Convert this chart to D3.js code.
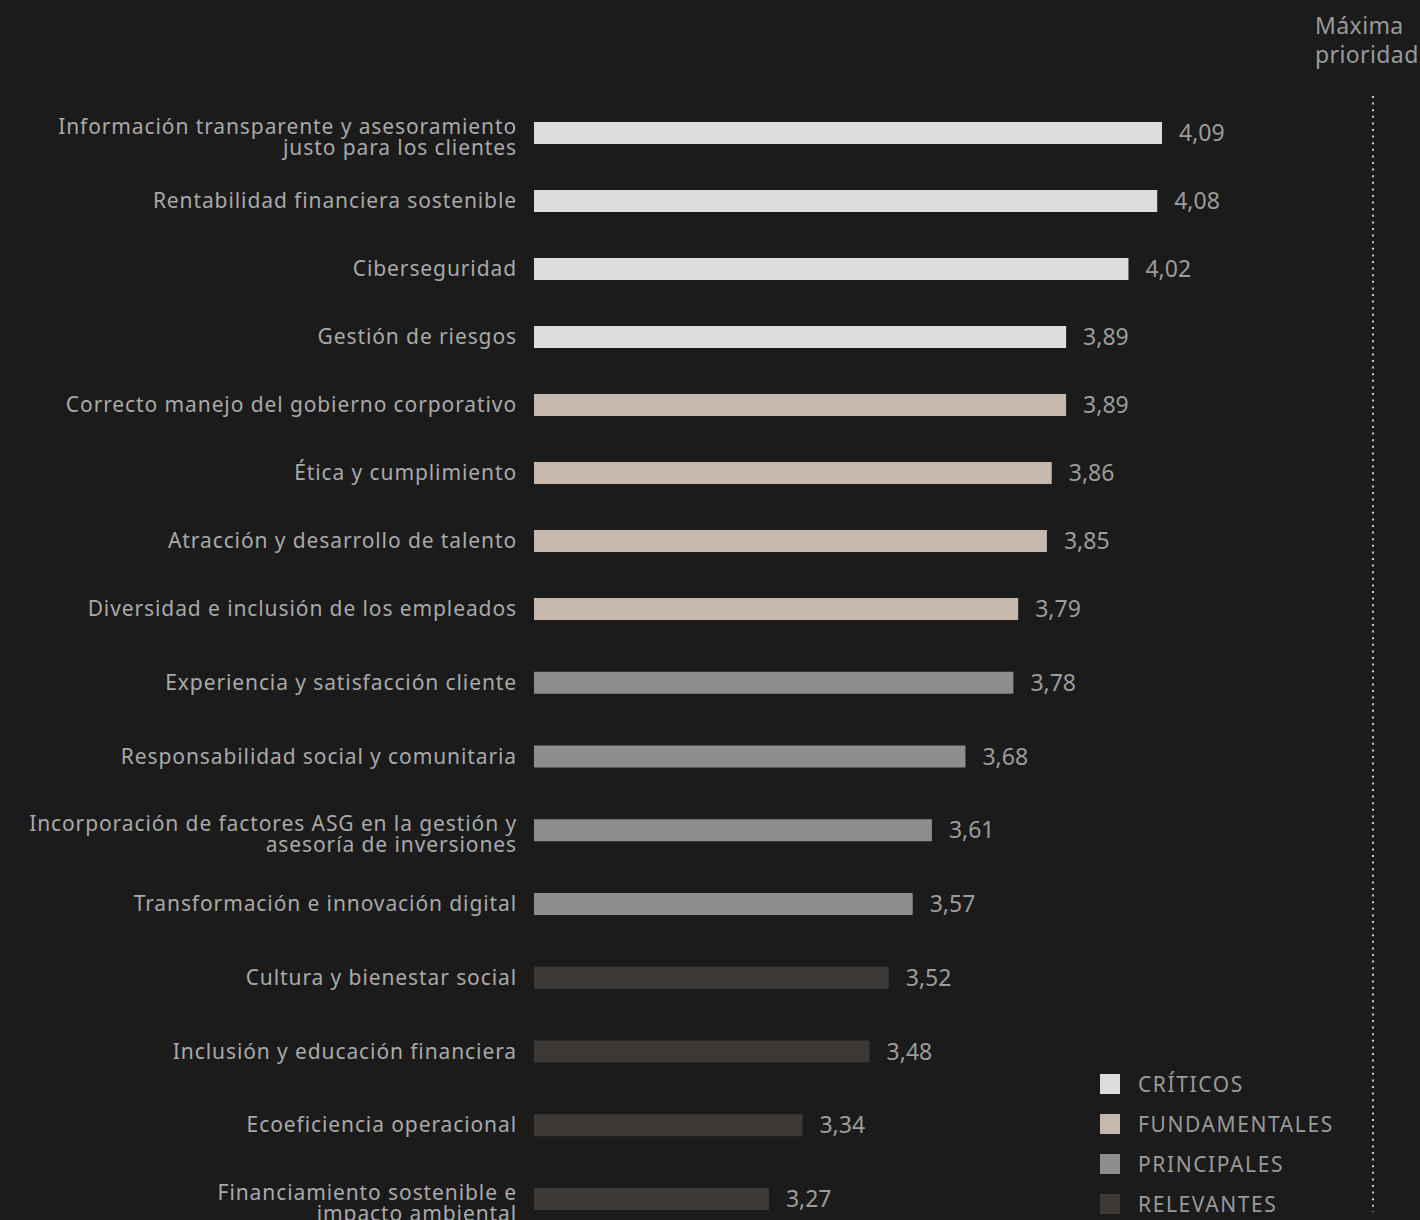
<!DOCTYPE html>
<html>
<head>
<meta charset="utf-8">
<script src="https://cdn.jsdelivr.net/npm/d3@7"></script>
<style>
  body { margin: 0; background: #1b1b1b; }
  svg { display: block; font-family: "Noto Sans", sans-serif; }
</style>
</head>
<body>
<div id="chart"></div>
<script>
// data
var categories = [
  "Información transparente y asesoramiento|justo para los clientes",
  "Rentabilidad financiera sostenible",
  "Ciberseguridad",
  "Gestión de riesgos",
  "Correcto manejo del gobierno corporativo",
  "Ética y cumplimiento",
  "Atracción y desarrollo de talento",
  "Diversidad e inclusión de los empleados",
  "Experiencia y satisfacción cliente",
  "Responsabilidad social y comunitaria",
  "Incorporación de factores ASG en la gestión y|asesoría de inversiones",
  "Transformación e innovación digital",
  "Cultura y bienestar social",
  "Inclusión y educación financiera",
  "Ecoeficiencia operacional",
  "Financiamiento sostenible e|impacto ambiental"
];
var values = [4.09, 4.08, 4.02, 3.89, 3.89, 3.86, 3.85, 3.79, 3.78, 3.68, 3.61, 3.57, 3.52, 3.48, 3.34, 3.27];
var groups = [0, 0, 0, 0, 1, 1, 1, 1, 2, 2, 2, 2, 3, 3, 3, 3];
var groupNames = ["CRÍTICOS", "FUNDAMENTALES", "PRINCIPALES", "RELEVANTES"];
var groupColors = ["#dcdcdc", "#c5b9ae", "#8d8d8d", "#3d3936"];

var fullWidth = 1420;
var fullHeight = 1220;

var svg = d3.select("#chart").append("svg")
    .attr("width", fullWidth)
    .attr("height", fullHeight);

svg.append("rect")
    .attr("width", fullWidth)
    .attr("height", fullHeight)
    .attr("fill", "#1b1b1b");

// bars start at 534, value scale does not start at zero
var xScale = d3.scaleLinear()
    .domain([2.78, 4.09])
    .range([534, 1162]);

// rows are a bit tighter in the top half than in the bottom half
var rowScale = d3.scaleLinear()
    .domain([0, 7, categories.length - 1])
    .range([133, 609, 1199]);

var barHeight = 22;

var rows = svg.append("g").selectAll("g.row")
    .data(categories)
  .enter().append("g")
    .classed("row", true)
    .attr("transform", function(d, i) { return "translate(0," + rowScale(i) + ")"; });

rows.append("rect")
    .attr("x", xScale(2.78))
    .attr("y", -barHeight / 2)
    .attr("height", barHeight)
    .attr("width", function(d, i) { return xScale(values[i]) - xScale(2.78); })
    .attr("fill", function(d, i) { return groupColors[groups[i]]; });

// category labels, some on two lines
rows.append("text")
    .attr("x", 517)
    .attr("text-anchor", "end")
    .style("font-size", "21px")
    .style("letter-spacing", "0.9px")
    .style("fill", "#a9a9a9")
    .each(function(d) {
        var lines = d.split("|");
        var t = d3.select(this);
        var y0 = lines.length > 1 ? 1 : 7;
        lines.forEach(function(line, k) {
            t.append("tspan")
                .attr("x", 517)
                .attr("y", y0 + k * 21)
                .text(line);
        });
    });

// value labels
rows.append("text")
    .attr("x", function(d, i) { return xScale(values[i]) + 17; })
    .attr("y", 8)
    .style("font-size", "23px")
    .style("fill", "#9c9c9c")
    .text(function(d, i) { return d3.format(".2f")(values[i]).replace(".", ","); });

// legend
var legend = svg.append("g").selectAll("g.legend")
    .data(groupNames)
  .enter().append("g")
    .classed("legend", true)
    .attr("transform", function(d, i) { return "translate(1100," + (1084 + i * 40) + ")"; });

legend.append("rect")
    .attr("y", -10)
    .attr("width", 20)
    .attr("height", 20)
    .attr("fill", function(d, i) { return groupColors[i]; });

legend.append("text")
    .attr("x", 38)
    .attr("y", 8)
    .style("font-size", "21px")
    .style("letter-spacing", "1.6px")
    .style("fill", "#9a9a9a")
    .text(function(d) { return d; });

// "Máxima prioridad" marker
svg.append("text")
    .attr("x", 1315)
    .attr("y", 34)
    .style("font-size", "23px")
    .style("letter-spacing", "0.4px")
    .style("fill", "#9a9a9a")
    .text("Máxima");
svg.append("text")
    .attr("x", 1315)
    .attr("y", 63)
    .style("font-size", "23px")
    .style("letter-spacing", "0.4px")
    .style("fill", "#9a9a9a")
    .text("prioridad");

svg.append("line")
    .attr("x1", 1373).attr("x2", 1373)
    .attr("y1", 96).attr("y2", 1212)
    .attr("stroke", "#c8c8c8")
    .attr("stroke-width", 2)
    .attr("stroke-dasharray", "2,4.6");
</script>
</body>
</html>
